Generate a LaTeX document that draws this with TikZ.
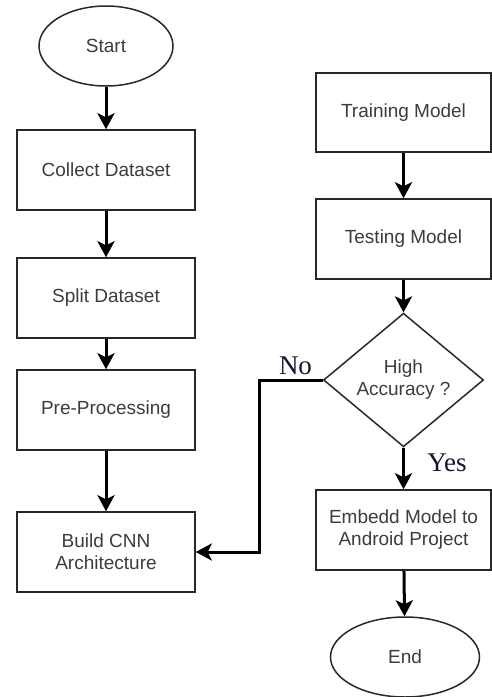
\documentclass[tikz,border=0pt]{standalone}
\usepackage{fontspec}
\setmainfont{Liberation Sans}
\newfontfamily\labelserif{Liberation Serif}
\usetikzlibrary{shapes.geometric,arrows.meta}
\definecolor{boxline}{RGB}{40,40,40}
\definecolor{boxtext}{RGB}{60,60,60}
\definecolor{branchtext}{RGB}{20,20,50}
\tikzset{
  flowbox/.style={draw=boxline, line width=1.5pt, rectangle, inner sep=0pt,
    minimum height=80pt, text=boxtext, align=center,
    font=\fontsize{19}{22}\selectfont},
  terminal/.style={draw=boxline, line width=1.5pt, ellipse, inner sep=0pt,
    minimum height=80pt, text=boxtext, font=\fontsize{19}{22}\selectfont},
  decision/.style={draw=boxline, line width=1.5pt, diamond, inner sep=0pt,
    minimum width=160pt, minimum height=130pt, text=boxtext, align=center,
    font=\fontsize{19}{22}\selectfont},
  flowarrow/.style={draw=black, line width=3pt,
    -{Stealth[length=16pt, width=17pt, inset=4pt]}},
  branchlabel/.style={text=branchtext, inner sep=0pt,
    font=\labelserif\fontsize{27}{30}\selectfont}
}
\begin{document}
\begin{tikzpicture}[x=1pt, y=-1pt]
  \useasboundingbox (0,0) rectangle (492,697);

  % left column: data preparation
  \node[terminal, minimum width=134pt] (start) at (106,46) {Start};
  \node[flowbox, minimum width=178pt] (collect) at (106,170) {Collect Dataset};
  \node[flowbox, minimum width=178pt] (split) at (106,298) {Split Dataset};
  \node[flowbox, minimum width=178pt] (pre) at (106,410) {Pre-Processing};
  \node[flowbox, minimum width=178pt] (build) at (106,552) {Build CNN\\Architecture};

  % right column: training and deployment
  \node[flowbox, minimum width=175pt, minimum height=79pt] (train) at (403.5,112.5) {Training Model};
  \node[flowbox, minimum width=175pt] (test) at (403.5,239) {Testing Model};
  \node[decision] (acc) at (403.5,380) {High\\Accuracy ?};
  \node[flowbox, minimum width=175pt] (embed) at (403.5,530) {Embedd Model to\\Android Project};
  \node[terminal, minimum width=149pt] (end) at (405,657) {End};

  % connectors
  \draw[flowarrow] (start) -- (collect);
  \draw[flowarrow] (collect) -- (split);
  \draw[flowarrow] (split) -- (pre);
  \draw[flowarrow] (pre) -- (build);
  \draw[flowarrow] (train) -- (test);
  \draw[flowarrow] (test) -- (acc);
  \draw[flowarrow] (acc) -- (embed);
  \draw[flowarrow] (embed) -- (end);

  % "No" branch loops back to the model architecture
  \coordinate (nobend) at (259,380);
  \draw[flowarrow] (acc.west) -- (nobend) |- (build.east);

  % branch labels
  \node[branchlabel] (nolabel) at (295.5,366) {No};
  \node[branchlabel] (yeslabel) at (447,463) {Yes};
\end{tikzpicture}
\end{document}
